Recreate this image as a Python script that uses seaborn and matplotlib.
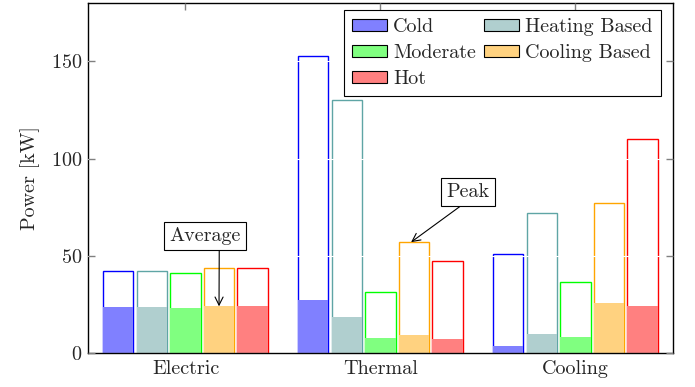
import pandas as pd
import matplotlib as mpl
import matplotlib.pyplot as plt
import seaborn as sns
from matplotlib.patches import Patch

# Chart data
categories = ['Electric', 'Thermal', 'Cooling']
seasons = ['Cold', 'Heating Based', 'Moderate', 'Cooling Based', 'Hot']
peak = {
    'Cold':          [42.3, 152.7, 50.7],
    'Heating Based': [42.3, 130.0, 72.0],
    'Moderate':      [41.0, 31.3, 36.4],
    'Cooling Based': [43.6, 57.0, 77.2],
    'Hot':           [43.6, 47.3, 110.0],
}
average = {
    'Cold':          [23.5, 27.3, 3.6],
    'Heating Based': [23.6, 18.4, 9.8],
    'Moderate':      [23.2, 7.7, 8.1],
    'Cooling Based': [24.0, 9.3, 25.9],
    'Hot':           [24.4, 7.0, 24.4],
}
edge_colors = ['#0000ff', '#5fa5a5', '#00ff00', '#ffa500', '#ff0000']
fill_colors = ['#8080ff', '#b0cfcf', '#80ff80', '#ffd280', '#ff8080']

# Long-form table for seaborn
rows = []
for s in seasons:
    for i, c in enumerate(categories):
        rows.append({'category': c, 'season': s,
                     'peak': peak[s][i], 'average': average[s][i]})
df = pd.DataFrame(rows)

sns.set_style('white')
plt.rcParams['font.family'] = ['cmr10', 'DejaVu Serif']
plt.rcParams['axes.formatter.use_mathtext'] = True
plt.rcParams['mathtext.fontset'] = 'cm'

FS = 14.5

fig = plt.figure(figsize=(6.95, 3.87), dpi=100)
ax = fig.add_axes([0.1266, 0.0879, 0.8417, 0.9043])

# Peak bars: outlines only
sns.barplot(data=df, x='category', y='peak', hue='season', order=categories,
            hue_order=seasons, palette=edge_colors, fill=False, linewidth=1.0,
            width=0.86, gap=0.1, errorbar=None, legend=False, ax=ax)

# Average bars: filled
sns.barplot(data=df, x='category', y='average', hue='season', order=categories,
            hue_order=seasons, palette=fill_colors, linewidth=0,
            saturation=1, width=0.86, gap=0.1, errorbar=None, legend=False, ax=ax)

ax.set_xlim(-0.5, 2.5)
ax.set_ylim(0, 180)
ax.set_yticks([0, 50, 100, 150])
ax.set_xlabel('')
ax.set_ylabel('Power [kW]', fontsize=FS, labelpad=8)

# Faint white grid over the bar outlines
ax.yaxis.grid(True, color='white', linewidth=0.8, zorder=5)
ax.set_axisbelow(False)

for spine in ax.spines.values():
    spine.set_color('black')
    spine.set_linewidth(1.0)

ax.tick_params(axis='both', direction='in', length=5, color='grey',
               labelsize=FS, width=1.0, pad=4)
ax.tick_params(axis='x', top=True, bottom=False, labelbottom=True, pad=5)
ax.tick_params(axis='y', left=True, right=True)

# Annotations pointing at bars
avg_bar = ax.containers[8][0]
peak_bar = ax.containers[3][1]
box = dict(boxstyle='square,pad=0.25', fc='white', ec='black', lw=0.8)
ax.annotate('Average',
            xy=(avg_bar.get_x() + avg_bar.get_width() / 2, avg_bar.get_height()),
            xytext=(0.1, 60.3), ha='center', va='center', fontsize=FS,
            bbox=box,
            arrowprops=dict(arrowstyle='->', color='black', lw=0.8,
                            shrinkA=0, shrinkB=0, relpos=(0.7, 0)))
ax.annotate('Peak',
            xy=(peak_bar.get_x() + peak_bar.get_width() / 2 - 0.015,
                peak_bar.get_height()),
            xytext=(1.449, 83), ha='center', va='center', fontsize=FS,
            bbox=box,
            arrowprops=dict(arrowstyle='->', color='black', lw=0.8,
                            shrinkA=0, shrinkB=0, relpos=(0.5, 0)))

# Legend (column-wise fill like the reference)
handles = {s: Patch(facecolor=f, edgecolor='black', linewidth=0.8, label=s)
           for s, f in zip(seasons, fill_colors)}
order = ['Cold', 'Moderate', 'Hot', 'Heating Based', 'Cooling Based']
leg = ax.legend(handles=[handles[s] for s in order], ncol=2,
                loc='upper right', bbox_to_anchor=(0.9795, 0.98),
                borderaxespad=0, fontsize=FS, fancybox=False,
                edgecolor='black', framealpha=1, handlelength=1.75,
                handleheight=0.6, handletextpad=0.3, columnspacing=0.4,
                labelspacing=0.4, borderpad=0.4)
leg.get_frame().set_linewidth(0.8)

fig.savefig('out.png', dpi=100)
